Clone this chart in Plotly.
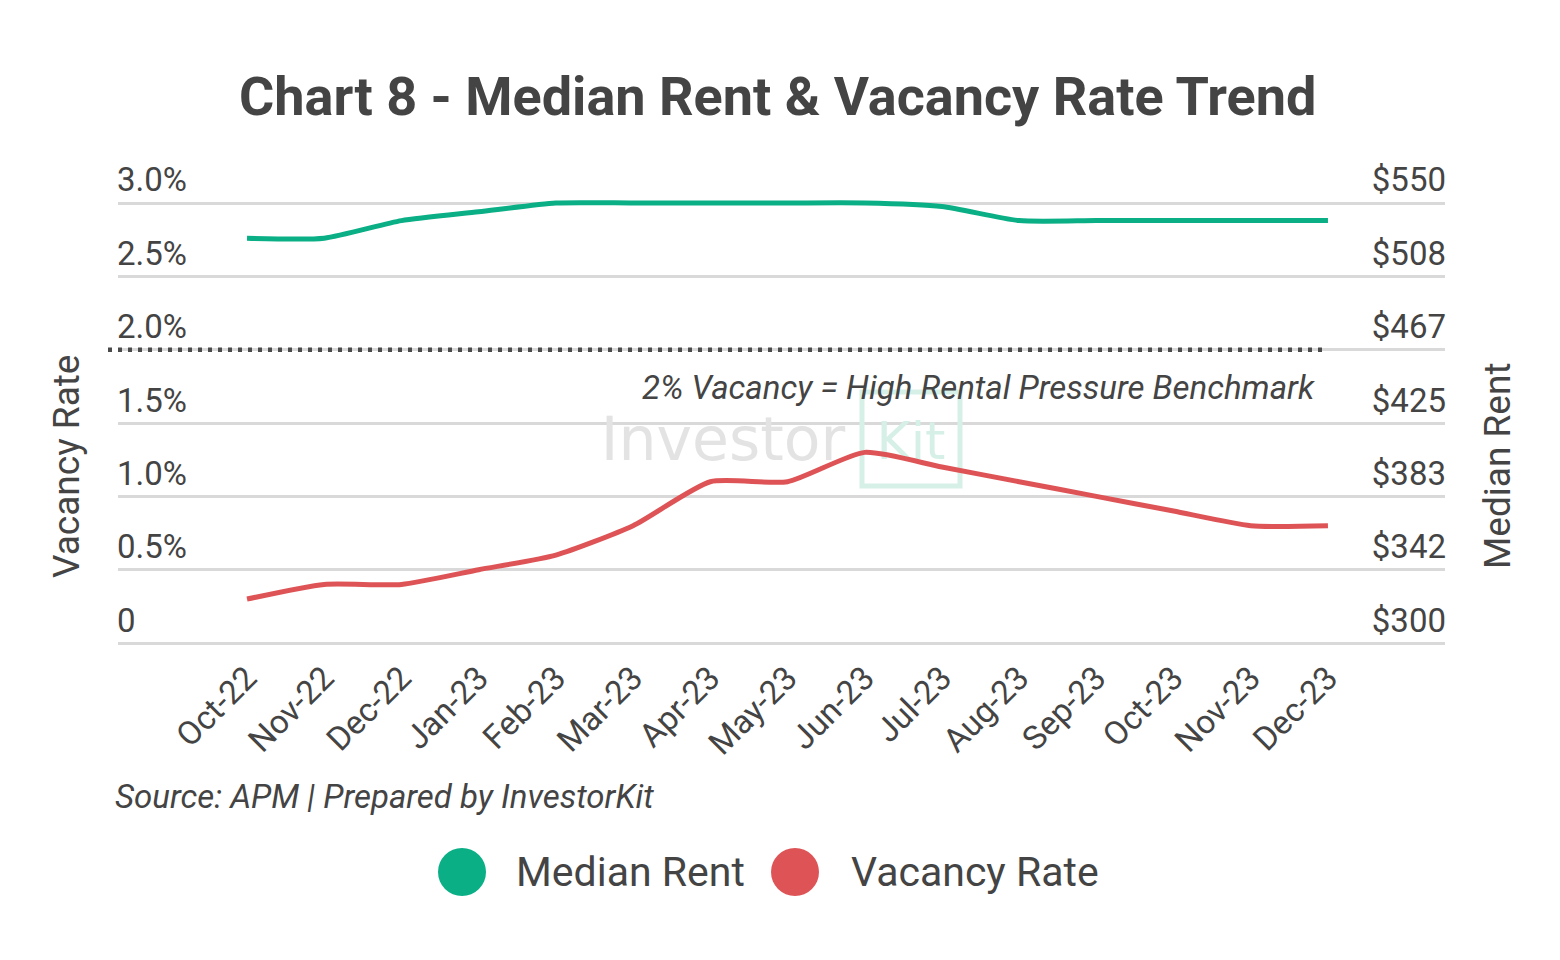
import plotly.graph_objects as go

# ---------------- data ----------------
months = ["Oct-22", "Nov-22", "Dec-22", "Jan-23", "Feb-23", "Mar-23", "Apr-23", "May-23",
          "Jun-23", "Jul-23", "Aug-23", "Sep-23", "Oct-23", "Nov-23", "Dec-23"]
median_rent = [530, 530, 540, 545, 550, 550, 550, 550, 550, 548, 540, 540, 540, 540, 540]
vacancy_rate = [0.3, 0.4, 0.4, 0.5, 0.6, 0.8, 1.1, 1.1, 1.3, 1.2, 1.1, 1.0, 0.9, 0.8, 0.8]

vac_tickvals = [0, 0.5, 1.0, 1.5, 2.0, 2.5, 3.0]
vac_ticktext = ["0", "0.5%", "1.0%", "1.5%", "2.0%", "2.5%", "3.0%"]
rent_tickvals = [300, 341.67, 383.33, 425, 466.67, 508.33, 550]
rent_ticktext = ["$300", "$342", "$383", "$425", "$467", "$508", "$550"]

benchmark = 2.0
series_names = ["Median Rent", "Vacancy Rate"]
GREEN = "#0aaf86"
RED = "#de5456"
TEXT = "#444444"
GRID = "#d9d9d9"
FONT = "Roboto"

# ---------------- layout geometry ----------------
W, H = 1560, 960
PL, PR, PT, PB = 118, 1445, 137, 646
y_range = [-0.02, 3.45]
x_pos = list(range(len(months)))
x_range = [-1.671, 15.516]


def px_x(px):
    return (px - PL) / (PR - PL)


def px_y(py):
    return (PB - py) / (PB - PT)


def data_x(px):
    return x_range[0] + (px - PL) / (PR - PL) * (x_range[1] - x_range[0])


def data_y(py):
    return y_range[0] + (PB - py) / (PB - PT) * (y_range[1] - y_range[0])


rent_lo = 300 + (250 / 3) * y_range[0]
rent_hi = 300 + (250 / 3) * y_range[1]

fig = go.Figure()

# watermark (drawn first so it sits under the lines)
fig.add_trace(go.Scatter(
    x=[data_x(723)], y=[data_y(445)],
    mode="text", text=["Investor"],
    textfont=dict(family="DejaVu Sans", size=60, color="#e3e3e3"),
    textposition="middle center", showlegend=False, hoverinfo="skip"))
fig.add_trace(go.Scatter(
    x=[data_x(911)], y=[data_y(446)],
    mode="text", text=["Kit"],
    textfont=dict(family="DejaVu Sans", size=52, color="#d6f0e8"),
    textposition="middle center", showlegend=False, hoverinfo="skip"))

fig.add_trace(go.Scatter(
    x=x_pos, y=vacancy_rate, name=series_names[1], mode="lines",
    line=dict(color=RED, width=5, shape="spline", smoothing=0.6),
    showlegend=False, yaxis="y"))

fig.add_trace(go.Scatter(
    x=x_pos, y=median_rent, name=series_names[0], mode="lines",
    line=dict(color=GREEN, width=5, shape="spline", smoothing=0.6),
    showlegend=False, yaxis="y2"))

shapes = [
    # watermark box
    dict(type="rect", xref="x", yref="y", layer="between",
         x0=data_x(862), x1=data_x(960), y0=data_y(486), y1=data_y(392),
         line=dict(color="#d6f0e8", width=5)),
    # benchmark dotted line
    dict(type="line", xref="paper", yref="y",
         x0=px_x(108), x1=px_x(1326), y0=benchmark, y1=benchmark,
         line=dict(color="#4a4a4a", width=4.5, dash="4px,6px")),
]

# custom legend markers
leg_cy = px_y(872)
for cx, col in [(462, GREEN), (795, RED)]:
    shapes.append(dict(type="circle", xref="paper", yref="paper",
                       xsizemode="pixel", ysizemode="pixel",
                       xanchor=px_x(cx), yanchor=leg_cy,
                       x0=-24, x1=24, y0=-24, y1=24,
                       fillcolor=col, line=dict(width=0)))

annotations = [
    dict(text="2% Vacancy = High Rental Pressure Benchmark", xref="paper", yref="paper",
         x=px_x(1317), y=px_y(387), xanchor="right", yanchor="middle", showarrow=False,
         font=dict(family=FONT, size=33, color=TEXT, style="italic")),
    dict(text="Source: APM | Prepared by InvestorKit", xref="paper", yref="paper",
         x=px_x(113), y=px_y(796), xanchor="left", yanchor="middle", showarrow=False,
         font=dict(family=FONT, size=33, color=TEXT, style="italic")),
    dict(text=series_names[0], xref="paper", yref="paper",
         x=px_x(514), y=leg_cy, xanchor="left", yanchor="middle", showarrow=False,
         font=dict(family=FONT, size=41, color=TEXT)),
    dict(text=series_names[1], xref="paper", yref="paper",
         x=px_x(849), y=leg_cy, xanchor="left", yanchor="middle", showarrow=False,
         font=dict(family=FONT, size=41, color=TEXT)),
    # axis titles
    dict(text="Vacancy Rate", xref="paper", yref="paper", textangle=-90,
         x=px_x(66), y=px_y(467), xanchor="center", yanchor="middle", showarrow=False,
         font=dict(family=FONT, size=37, color=TEXT)),
    dict(text="Median Rent", xref="paper", yref="paper", textangle=-90,
         x=px_x(1497), y=px_y(466), xanchor="center", yanchor="middle", showarrow=False,
         font=dict(family=FONT, size=37, color=TEXT)),
]

fig.update_layout(
    width=W, height=H,
    margin=dict(l=PL, r=W - PR, t=PT, b=H - PB, autoexpand=False),
    paper_bgcolor="white", plot_bgcolor="white",
    font=dict(family=FONT, color=TEXT),
    title=dict(text="Chart 8 - Median Rent & Vacancy Rate Trend",
               x=0.4985, xanchor="center", y=1 - 96 / H, yanchor="middle", yref="container",
               font=dict(family=FONT, size=54, color=TEXT, weight=700)),
    xaxis=dict(range=x_range, tickmode="array", tickvals=x_pos, ticktext=months,
               tickangle=-45, showgrid=False, zeroline=False, showline=False,
               ticks="", ticklabelstandoff=5,
               tickfont=dict(family=FONT, size=33, color=TEXT), automargin=False),
    yaxis=dict(range=y_range, tickmode="array", tickvals=vac_tickvals, ticktext=vac_ticktext,
               showgrid=True, gridcolor=GRID, gridwidth=2.5, zeroline=False, showline=False,
               ticks="", ticklabelposition="inside top", ticklabelstandoff=-4,
               tickfont=dict(family=FONT, size=33, color=TEXT), automargin=False),
    yaxis2=dict(range=[rent_lo, rent_hi], overlaying="y", side="right", anchor="x",
                tickmode="array", tickvals=rent_tickvals, ticktext=rent_ticktext,
                showgrid=False, zeroline=False, showline=False, ticks="",
                ticklabelposition="inside top", ticklabelstandoff=-4,
                tickfont=dict(family=FONT, size=33, color=TEXT), automargin=False),
    shapes=shapes,
    annotations=annotations,
    showlegend=False,
)

fig.write_html("out.html", post_script="document.body.style.margin='0';",
               config={"displayModeBar": False})
